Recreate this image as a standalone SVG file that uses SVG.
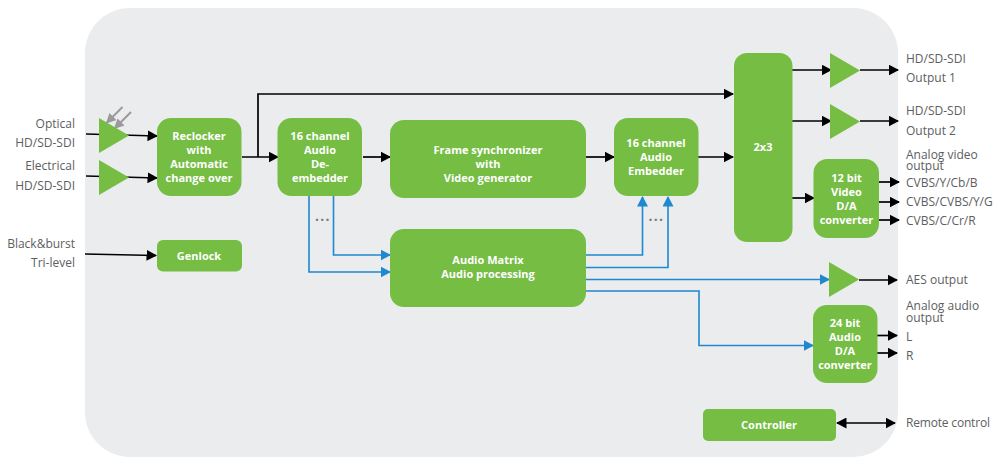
<svg xmlns="http://www.w3.org/2000/svg" width="995" height="457" viewBox="0 0 995 457">
<style>
.b{fill:#75bd43}
.t{font-family:"Open Sans","Noto Sans",sans-serif;font-size:11px;font-weight:700;fill:#fff;text-anchor:middle}
.l{font-family:"Open Sans","Noto Sans",sans-serif;font-size:12px;fill:#5c5e61}
.e{text-anchor:end}
.d{font-size:14px;font-weight:700;letter-spacing:1.2px;fill:#77797c}
.k{fill:none;stroke:#000;stroke-width:1.7}
.u{fill:none;stroke:#1f88cf;stroke-width:1.6}
.g{fill:none;stroke:#9a9a9a;stroke-width:2}
</style>
<defs>
<marker id="ak" markerUnits="userSpaceOnUse" markerWidth="11" markerHeight="11" refX="9.500" refY="5.500" orient="auto-start-reverse"><path d="M0 0L10.500 5.500L0 11Z" fill="#000"/></marker>
<marker id="au" markerUnits="userSpaceOnUse" markerWidth="11" markerHeight="11" refX="9.500" refY="5.500" orient="auto"><path d="M0 0L10.500 5.500L0 11Z" fill="#1f88cf"/></marker>
<marker id="ag" markerUnits="userSpaceOnUse" markerWidth="10" markerHeight="10" refX="8.500" refY="5" orient="auto"><path d="M0 0L10 5L0 10Z" fill="#9a9a9a"/></marker>
</defs>
<path id="background" d="M130 8H853A45 45 0 0 1 898 53V412A45 45 0 0 1 853 457H130A45 45 0 0 1 85 412V53A45 45 0 0 1 130 8Z" fill="#ebecee"/>
<g id="connectors">
<path class="k" marker-end="url(#ak)" d="M86 134L157 136"/>
<path class="k" marker-end="url(#ak)" d="M86 176L157 178"/>
<path class="k" marker-end="url(#ak)" d="M85 254L156 255.500"/>
<path class="k" marker-end="url(#ak)" d="M242 157H278"/>
<path class="k" marker-end="url(#ak)" d="M258 157V94H733"/>
<path class="k" marker-end="url(#ak)" d="M363 157H390"/>
<path class="k" marker-end="url(#ak)" d="M586 157H614"/>
<path class="k" marker-end="url(#ak)" d="M698 157H733"/>
<path class="k" marker-end="url(#ak)" d="M792 70H831"/>
<path class="k" marker-end="url(#ak)" d="M792 121H831"/>
<path class="k" marker-end="url(#ak)" d="M860 70H898"/>
<path class="k" marker-end="url(#ak)" d="M860 121H898"/>
<path class="k" marker-end="url(#ak)" d="M792 198H814"/>
<path class="k" marker-end="url(#ak)" d="M878 182H899"/>
<path class="k" marker-end="url(#ak)" d="M878 202H899"/>
<path class="k" marker-end="url(#ak)" d="M878 220H899"/>
<path class="k" marker-end="url(#ak)" d="M859 280H897"/>
<path class="k" marker-end="url(#ak)" d="M876 335.500H897"/>
<path class="k" marker-end="url(#ak)" d="M876 353H897"/>
<path class="k" marker-start="url(#ak)" marker-end="url(#ak)" d="M837 423H895"/>
<path class="u" marker-end="url(#au)" d="M333.500 196V255H390"/>
<path class="u" marker-end="url(#au)" d="M309 196V272H390"/>
<path class="u" marker-end="url(#au)" d="M586 255H642.500V197"/>
<path class="u" marker-end="url(#au)" d="M586 267.500H668V197"/>
<path class="u" marker-end="url(#au)" d="M586 279.500H829"/>
<path class="u" marker-end="url(#au)" d="M586 291H699V345.500H813"/>
<path class="g" marker-end="url(#ag)" d="M122.500 107L107 122.500"/>
<path class="g" marker-end="url(#ag)" d="M131 112L115 128"/>
</g>
<g id="amp-optical"><polygon class="b" points="99,118 99,153 129,135.500"/></g>
<g id="amp-electrical"><polygon class="b" points="99,160 99,195 129,177.500"/></g>
<g id="amp-out1"><polygon class="b" points="830,53 830,88 860,70.500"/></g>
<g id="amp-out2"><polygon class="b" points="830,104 830,139 860,121.500"/></g>
<g id="amp-aes"><polygon class="b" points="829,262 829,297 859,279.500"/></g>
<g id="reclocker"><rect class="b" x="157" y="118" width="84.500" height="78" rx="14"/>
<text class="t" x="199" y="140">Reclocker</text><text class="t" x="199" y="154">with</text><text class="t" x="199" y="168">Automatic</text><text class="t" x="199" y="182">change over</text></g>
<g id="deembedder"><rect class="b" x="277.500" y="118" width="84.500" height="78" rx="14"/>
<text class="t" x="320" y="140">16 channel</text><text class="t" x="320" y="154">Audio</text><text class="t" x="320" y="168">De-</text><text class="t" x="320" y="182">embedder</text></g>
<g id="framesync"><rect class="b" x="390" y="120" width="196" height="78" rx="14"/>
<text class="t" x="488" y="154">Frame synchronizer</text><text class="t" x="488" y="168">with</text><text class="t" x="488" y="182">Video generator</text></g>
<g id="embedder"><rect class="b" x="614" y="118" width="84.500" height="78" rx="14"/>
<text class="t" x="656" y="147">16 channel</text><text class="t" x="656" y="161">Audio</text><text class="t" x="656" y="175">Embedder</text></g>
<g id="matrix"><rect class="b" x="390" y="229" width="196" height="78" rx="14"/>
<text class="t" x="488" y="264">Audio Matrix</text><text class="t" x="488" y="278">Audio processing</text></g>
<g id="genlock"><rect class="b" x="157" y="240" width="85" height="31.500" rx="6"/>
<text class="t" x="199" y="260">Genlock</text></g>
<g id="sw2x3"><rect class="b" x="734" y="53" width="58.500" height="189" rx="13"/>
<text class="t" x="763" y="151">2x3</text></g>
<g id="videoda"><rect class="b" x="813.500" y="159" width="65.500" height="79" rx="14"/>
<text class="t" x="846.500" y="182">12 bit</text><text class="t" x="846.500" y="196">Video</text><text class="t" x="846.500" y="210">D/A</text><text class="t" x="846.500" y="224">converter</text></g>
<g id="audioda"><rect class="b" x="813" y="305" width="64.500" height="78" rx="14"/>
<text class="t" x="845" y="327">24 bit</text><text class="t" x="845" y="341">Audio</text><text class="t" x="845" y="355">D/A</text><text class="t" x="845" y="369">converter</text></g>
<g id="controller"><rect class="b" x="703" y="409" width="133" height="32" rx="5"/>
<text class="t" x="769" y="429">Controller</text></g>
<g id="labels">
<text class="l e" x="75" y="128">Optical</text><text class="l e" x="75" y="147">HD/SD-SDI</text>
<text class="l e" x="75" y="170">Electrical</text><text class="l e" x="75" y="190">HD/SD-SDI</text>
<text class="l e" x="75" y="248">Black&amp;burst</text><text class="l e" x="75" y="267">Tri-level</text>
<text class="l" x="906" y="63">HD/SD-SDI</text><text class="l" x="906" y="82">Output 1</text>
<text class="l" x="906" y="115">HD/SD-SDI</text><text class="l" x="906" y="135">Output 2</text>
<text class="l" x="906" y="159">Analog video</text><text class="l" x="906" y="170">output</text>
<text class="l" x="906" y="187">CVBS/Y/Cb/B</text><text class="l" x="906" y="206">CVBS/CVBS/Y/G</text><text class="l" x="906" y="225">CVBS/C/Cr/R</text>
<text class="l" x="906" y="284">AES output</text>
<text class="l" x="906" y="310">Analog audio</text><text class="l" x="906" y="322">output</text>
<text class="l" x="906" y="341">L</text><text class="l" x="906" y="360">R</text>
<text class="l" x="906" y="427" textLength="84">Remote control</text>
<text class="l d" x="315" y="221">...</text>
<text class="l d" x="648.500" y="221">...</text>
</g>
</svg>
